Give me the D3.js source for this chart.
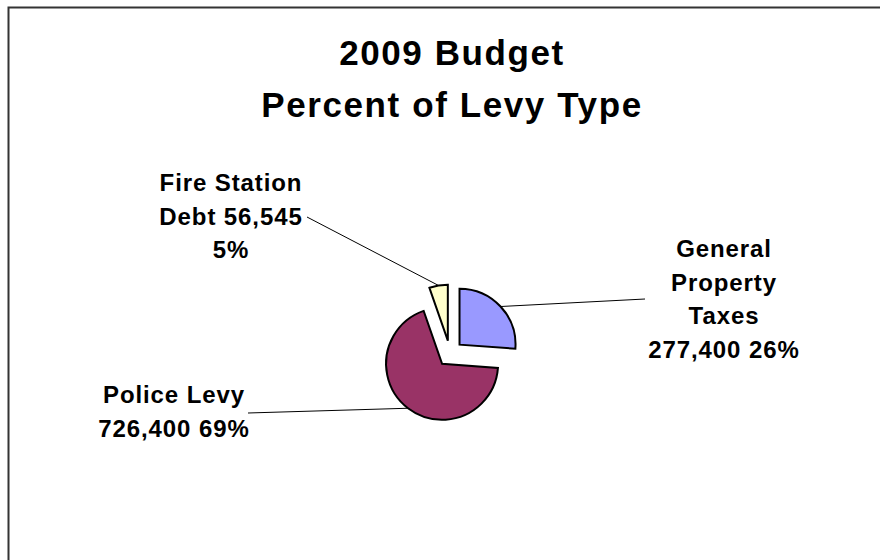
<!DOCTYPE html>
<html>
<head>
<meta charset="utf-8">
<script src="https://cdn.jsdelivr.net/npm/d3@7"></script>
<style>
  body { margin: 0; background: #fff; }
  svg { display: block; font-family: "Liberation Sans", Arial, sans-serif; }
</style>
</head>
<body>
<svg width="880" height="560"></svg>
<script>
// Chart data
const titleLines = ["2009 Budget", "Percent of Levy Type"];
const categories = ["General Property Taxes", "Police Levy", "Fire Station Debt"];
const values = [277400, 726400, 56545];
const percents = ["26%", "69%", "5%"];
const colors = ["#9999ff", "#993366", "#ffffcc"];
// label text lines, as they were wrapped on the chart
const labelLines = [
    ["General", "Property", "Taxes", "277,400 26%"],
    ["Police Levy", "726,400 69%"],
    ["Fire Station", "Debt 56,545", "5%"],
];

const width = 880;
const height = 560;
const cx = 450, cy = 353.5;
const radius = 56;
const explode = 13;

const svg = d3.select("svg");

// outer frame (cut off at right / bottom)
svg.append("rect")
    .attr("x", 8.5).attr("y", 7.5)
    .attr("width", 900).attr("height", 600)
    .attr("fill", "none")
    .attr("stroke", "#333")
    .attr("stroke-width", 2);

// title
svg.append("text")
    .attr("text-anchor", "middle")
    .attr("font-size", 35)
    .attr("font-weight", "bold")
    .attr("letter-spacing", 1.6)
    .selectAll("tspan")
    .data(titleLines)
    .enter()
    .append("tspan")
    .attr("x", 452)
    .attr("y", (d, i) => 65 + i * 52)
    .text((d) => d);

const pie = d3.pie().sort(null).value((d) => d);
const arcs = pie(values);
const arc = d3.arc().innerRadius(0).outerRadius(radius);

function offset(d) {
    const a = (d.startAngle + d.endAngle) / 2;
    return [Math.sin(a) * explode, -Math.cos(a) * explode];
}

const g = svg.append("g").attr("transform", `translate(${cx},${cy})`);

// label layout (where each leader line meets its label)
const labelPos = [
    { x: 724, y: 257, lx: 645, ly: 299, anchor: "middle" },
    { x: 174, y: 403, lx: 248, ly: 413, anchor: "middle" },
    { x: 231, y: 191, lx: 307, ly: 217, anchor: "middle" },
];

// leader lines from slice edge (at mid-angle) to label
g.append("g")
    .selectAll("line")
    .data(arcs)
    .enter()
    .append("line")
    .attr("x1", (d) => {
        const a = (d.startAngle + d.endAngle) / 2;
        return offset(d)[0] + Math.sin(a) * radius;
    })
    .attr("y1", (d) => {
        const a = (d.startAngle + d.endAngle) / 2;
        return offset(d)[1] - Math.cos(a) * radius;
    })
    .attr("x2", (d, i) => labelPos[i].lx - cx)
    .attr("y2", (d, i) => labelPos[i].ly - cy)
    .attr("stroke", "#000")
    .attr("stroke-width", 1);

g.append("g")
    .selectAll("path")
    .data(arcs)
    .enter()
    .append("path")
    .attr("d", arc)
    .attr("transform", (d) => `translate(${offset(d)[0]},${offset(d)[1]})`)
    .attr("fill", (d, i) => colors[i])
    .attr("stroke", "#000")
    .attr("stroke-width", 2)
    .attr("stroke-linejoin", "miter");

// labels
svg.append("g")
    .selectAll("text")
    .data(labelLines)
    .enter()
    .append("text")
    .attr("text-anchor", (d, i) => labelPos[i].anchor)
    .attr("font-size", 24)
    .attr("font-weight", "bold")
    .attr("letter-spacing", 0.9)
    .each(function (lines, i) {
        d3.select(this)
            .selectAll("tspan")
            .data(lines)
            .enter()
            .append("tspan")
            .attr("x", labelPos[i].x)
            .attr("y", (d, j) => labelPos[i].y + j * 33.7)
            .text((d) => d);
    });
</script>
</body>
</html>
